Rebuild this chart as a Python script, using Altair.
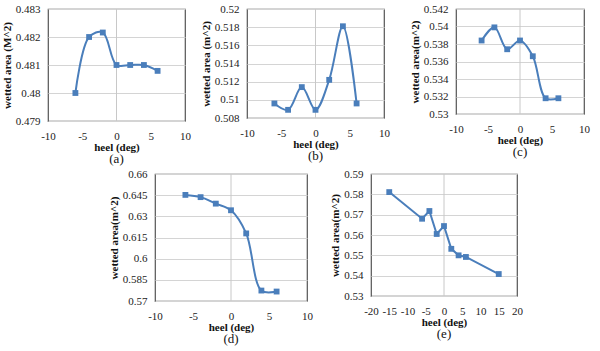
import altair as alt
import pandas as pd

# ---- data ----
heel_a = [-6, -4, -2, 0, 2, 4, 6]
area_a = [0.4800, 0.4820, 0.48216, 0.4810, 0.4810, 0.4810, 0.48079]

heel_b = [-6, -4, -2, 0, 2, 4, 6]
area_b = [0.5096, 0.5089, 0.5114, 0.5089, 0.5122, 0.5181, 0.5096]

heel_c = [-6, -4, -2, 0, 2, 4, 6]
area_c = [0.5384, 0.5399, 0.5374, 0.5384, 0.5366, 0.5318, 0.5318]

heel_d = [-6, -4, -2, 0, 2, 4, 6]
area_d = [0.6452, 0.6436, 0.6390, 0.6343, 0.6179, 0.5774, 0.5767]

heel_e = [-15, -6, -4, -2, 0, 2, 4, 6, 15]
area_e = [0.5811, 0.5680, 0.5718, 0.5605, 0.5644, 0.5532, 0.5500, 0.5492, 0.5408]

xticks_std = [-10, -5, 0, 5, 10]
xticks_e = [-20, -15, -10, -5, 0, 5, 10, 15, 20]
yticks_a = [0.479, 0.480, 0.481, 0.482, 0.483]
yticks_b = [0.508, 0.510, 0.512, 0.514, 0.516, 0.518, 0.520]
yticks_c = [0.530, 0.532, 0.534, 0.536, 0.538, 0.540, 0.542]
yticks_d = [0.570, 0.585, 0.600, 0.615, 0.630, 0.645, 0.660]
yticks_e = [0.53, 0.54, 0.55, 0.56, 0.57, 0.58, 0.59]

BLUE = "#4a7ebb"
FONT = "Liberation Serif"


def panel(heel, area, xdom, xticks, ydom, yticks, ytitle, caption, w, h,
          interp, title_pad=3):
    df = pd.DataFrame({"heel": heel, "area": area})
    x = alt.X("heel:Q",
              scale=alt.Scale(domain=xdom, nice=False, zero=False),
              axis=alt.Axis(values=xticks, title="heel (deg)", grid=False,
                            ticks=False, domain=False, labelPadding=9,
                            labelOverlap=False, labelFlush=False,
                            labelExpr="toString(datum.value)",
                            labelFont=FONT, labelFontSize=11, labelColor="#222",
                            titleFont=FONT, titleFontSize=11, titleFontWeight="bold",
                            titleColor="#111", titlePadding=0))
    y = alt.Y("area:Q",
              scale=alt.Scale(domain=ydom, nice=False, zero=False),
              axis=alt.Axis(values=yticks, title=ytitle, grid=True,
                            gridColor="#d4d4d4", ticks=False, domain=False,
                            labelPadding=8, labelOverlap=False, labelFlush=False,
                            labelExpr="toString(datum.value)",
                            labelFont=FONT, labelFontSize=11, labelColor="#222",
                            titleFont=FONT, titleFontSize=11, titleFontWeight="bold",
                            titleColor="#111", titlePadding=title_pad))
    line = alt.Chart(df).mark_line(interpolate=interp, color=BLUE,
                                   strokeWidth=2).encode(x=x, y=y)
    pts = alt.Chart(df).mark_square(size=34, color=BLUE, opacity=1).encode(x=x, y=y)
    zero = alt.Chart(pd.DataFrame({"heel": [0]})).mark_rule(
        color="#c8c8c8", strokeWidth=1).encode(x=x)
    return alt.layer(zero, line, pts).properties(
        width=w, height=h,
        title=alt.TitleParams(caption, orient="bottom", font=FONT, fontSize=13,
                              fontWeight="normal", color="#111", offset=1))


a = panel(heel_a, area_a, [-10, 10], xticks_std, [0.479, 0.483], yticks_a,
          "wetted area (M^2)", "(a)", 137, 112, "catmull-rom")
b = panel(heel_b, area_b, [-10, 10], xticks_std, [0.508, 0.520], yticks_b,
          "wetted area (m^2)", "(b)", 137, 109, "catmull-rom")
c = panel(heel_c, area_c, [-10, 10], xticks_std, [0.530, 0.542], yticks_c,
          "wetted area(m^2)", "(c)", 128, 105, "catmull-rom")
d = panel(heel_d, area_d, [-10, 10], xticks_std, [0.570, 0.660], yticks_d,
          "wetted area(m^2)", "(d)", 152, 127, "catmull-rom")
e = panel(heel_e, area_e, [-20, 20], xticks_e, [0.53, 0.59], yticks_e,
          "wetted area(m^2)", "(e)", 146, 122, "linear")

spacer = alt.Chart(pd.DataFrame({"s": [0]})).mark_point(opacity=0).encode(
    x=alt.value(0)).properties(width=44, height=10,
                               view=alt.ViewBackground(strokeOpacity=0))

top = alt.hconcat(alt.hconcat(a, b, spacing=7), c, spacing=17)
bottom = alt.hconcat(spacer, d, e, spacing=15)

chart = alt.vconcat(top, bottom, spacing=0).properties(
    padding={"left": 0, "top": 2, "right": 2, "bottom": 2},
    background="white"
).configure_view(stroke="#555", strokeWidth=1.2)

chart.save("out.html", embed_options={"renderer": "svg", "actions": False})
